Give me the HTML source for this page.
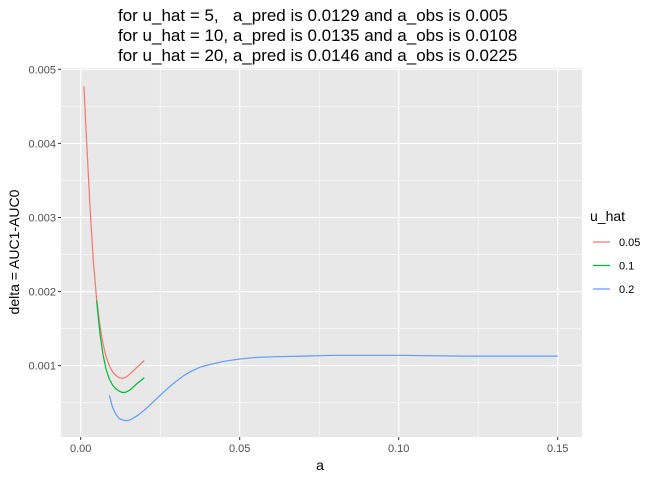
<!DOCTYPE html>
<html><head><meta charset="utf-8"><style>
body{margin:0;background:#fff;font-family:"Liberation Sans",sans-serif}
</style></head><body>
<svg width="672" height="480" xmlns="http://www.w3.org/2000/svg" style="font-family:'Liberation Sans',sans-serif">
<g font-size="17" fill="#000" style="white-space:pre">
<text x="118" y="21" xml:space="preserve">for u_hat = 5,   a_pred is 0.0129 and a_obs is 0.005</text>
<text x="118" y="41">for u_hat = 10, a_pred is 0.0135 and a_obs is 0.0108</text>
<text x="118" y="61">for u_hat = 20, a_pred is 0.0146 and a_obs is 0.0225</text>
</g>
<rect x="61" y="68" width="521" height="369" fill="#e8e8e8"/>
<g id="grid"></g>
<g id="lines"></g>
<g id="axes" font-size="11" fill="#4d4d4d"></g>
<text x="320" y="470" font-size="14" text-anchor="middle">a</text>
<text transform="translate(19,252) rotate(-90)" font-size="14" text-anchor="middle">delta = AUC1-AUC0</text>
<g>
<text x="590" y="221" font-size="14">u_hat</text>
<g id="legend"></g>
</g>
</svg>
<script>
const xTicks=[0,0.05,0.10,0.15];
const xTickLabels=["0.00","0.05","0.10","0.15"];
const yTicks=[0.001,0.002,0.003,0.004,0.005];
const yTickLabels=["0.001","0.002","0.003","0.004","0.005"];
const seriesNames=["0.05","0.1","0.2"];
const seriesColors=["#f8766d","#00ba38","#619cff"];
const redA=[.001,.002,.003,.004,.005,.006,.007,.008,.009,.010,.011,.012,.013,.014,.015,.016,.017,.018,.019,.020];
const redV=[.00477,.0039,.0031,.0024,.0019,.00155,.0013,.00112,.00100,.00092,.00087,.00084,.00083,.00084,.00087,.00091,.00095,.00099,.00103,.00107];
const greenA=[.005,.006,.007,.008,.009,.010,.011,.012,.013,.014,.015,.016,.017,.018,.019,.020];
const greenV=[.00188,.00145,.00115,.00095,.00082,.00074,.00069,.00066,.00064,.00064,.00066,.00069,.00073,.00077,.00080,.00084];
const blueA=[.009,.010,.011,.012,.013,.014,.015,.016,.018,.020,.0225,.025,.0275,.030,.0325,.035,.0375,.040,.045,.050,.055,.060,.070,.080,.090,.100,.120,.150];
const blueV=[.00060,.00044,.00035,.00029,.00027,.00026,.00026,.00028,.00033,.00040,.00050,.00060,.00070,.00079,.00087,.00093,.00098,.00101,.00106,.00109,.00111,.00112,.00113,.00114,.00114,.00114,.00113,.00113];
const X=a=>80.7+a*3180;
const Y=v=>439.8-v*74100;
const NS="http://www.w3.org/2000/svg";
function mk(tag,attrs,parent){const e=document.createElementNS(NS,tag);for(const k in attrs)e.setAttribute(k,attrs[k]);parent.appendChild(e);return e;}
const grid=document.getElementById('grid'),axes=document.getElementById('axes'),lines=document.getElementById('lines'),leg=document.getElementById('legend');
for(let i=0;i<xTicks.length-1;i++){const m=(xTicks[i]+xTicks[i+1])/2;const g=mk('line',{x1:X(m),x2:X(m),y1:68,y2:437,stroke:'#fff','stroke-width':0.5},grid);
}
for(let i=0;i<yTicks.length-1;i++){const m=(yTicks[i]+yTicks[i+1])/2;const g=mk('line',{x1:61,x2:582,y1:Y(m),y2:Y(m),stroke:'#fff','stroke-width':0.5},grid);
}
{const g=mk('line',{x1:61,x2:582,y1:Y(0.0005),y2:Y(0.0005),stroke:'#fff','stroke-width':0.5},grid);
}
xTicks.forEach((t,i)=>{const g=mk('line',{x1:X(t),x2:X(t),y1:68,y2:437,stroke:'#fff','stroke-width':1.1},grid);

mk('line',{x1:X(t),x2:X(t),y1:437,y2:440,stroke:'#333'},axes);
const tx=mk('text',{x:X(t),y:452,'text-anchor':'middle'},axes);tx.textContent=xTickLabels[i];
});
yTicks.forEach((t,i)=>{const g=mk('line',{x1:61,x2:582,y1:Y(t),y2:Y(t),stroke:'#fff','stroke-width':1.1},grid);

mk('line',{x1:58,x2:61,y1:Y(t),y2:Y(t),stroke:'#333'},axes);
const tx=mk('text',{x:56,y:Y(t)+4,'text-anchor':'end'},axes);tx.textContent=yTickLabels[i];
});
const all=[[redA,redV],[greenA,greenV],[blueA,blueV]];
all.forEach((s,i)=>{const d=s[0].map((a,j)=>(j?'L':'M')+X(a).toFixed(1)+','+Y(s[1][j]).toFixed(1)).join('');
const p=mk('path',{d:d,fill:'none',stroke:seriesColors[i],'stroke-width':1.2,'stroke-linejoin':'round'},lines);

const y=242+i*23.5;
const l=mk('line',{x1:593,x2:610,y1:y,y2:y,stroke:seriesColors[i],'stroke-width':1.2},leg);

const t=mk('text',{x:619,y:y+4,'font-size':11,fill:'#000'},leg);t.textContent=seriesNames[i];
});
</script>
</body></html>
